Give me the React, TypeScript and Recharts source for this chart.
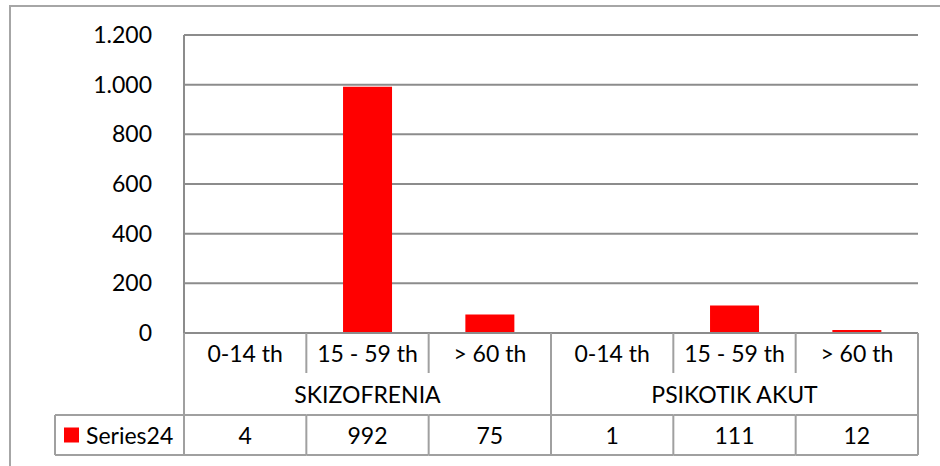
import { BarChart, Bar, XAxis, YAxis, CartesianGrid } from "recharts";

// age bands per diagnosis group
const categories = ["0-14 th", "15 - 59 th", "> 60 th", "0-14 th", "15 - 59 th", "> 60 th"];
const groupIndex = [0, 0, 0, 1, 1, 1];
const groups = ["SKIZOFRENIA", "PSIKOTIK AKUT"];
const seriesName = "Series24";
const values = [4, 992, 75, 1, 111, 12];
const yTicks = [0, 200, 400, 600, 800, 1000, 1200];

const W = 940;
const H = 466;
const MARGIN = { top: 35, right: 22, bottom: 0, left: 0 };
const Y_AXIS_W = 184;
const X_AXIS_H = 133;
const PLOT_W = W - MARGIN.left - MARGIN.right - Y_AXIS_W;

const FONT = "Lato, 'Open Sans', sans-serif";
const FONT_SIZE = 23;
const LINE = "#8c8c8c";
const TABLE_LINE = "#a0a0a0";
const RED = "#ff0000";

const data = categories.map((c, i) => ({
  key: `${groups[groupIndex[i]]}|${c}|${i}`,
  value: values[i],
}));

const fmt = (v: number) => String(v).replace(/\B(?=(\d{3})+(?!\d))/g, ".");

function TableTick(props: any) {
  const { x, y, payload } = props;
  const i: number = payload.index;
  const bw = PLOT_W / categories.length;
  const left = x - bw / 2;
  const right = x + bw / 2;
  const y1 = y + 40; // bottom of age-band row
  const y2 = y + 82; // top of data table row
  const y3 = y + 122; // bottom of data table row
  const g = groupIndex[i];
  const groupStart = i === 0 || groupIndex[i - 1] !== g;
  const isLast = i === categories.length - 1;
  const groupSize = groupIndex.filter((v) => v === g).length;
  const tableLeft = 55;

  const text = {
    fontFamily: FONT,
    fontSize: FONT_SIZE,
    fill: "#000",
    textAnchor: "middle" as const,
    dominantBaseline: "central" as const,
  };

  return (
    <g>
      <text x={x} y={y + 20} {...text}>{categories[i]}</text>
      {groupStart ? (
        <line x1={left} x2={left} y1={y} y2={y3} stroke={TABLE_LINE} strokeWidth={2} />
      ) : (
        <line x1={left} x2={left} y1={y} y2={y1} stroke={TABLE_LINE} strokeWidth={2} />
      )}
      {isLast && <line x1={right} x2={right} y1={y} y2={y3} stroke={TABLE_LINE} strokeWidth={2} />}
      {groupStart && (
        <text x={x + ((groupSize - 1) / 2) * bw} y={y + 61} {...text}>
          {groups[g]}
        </text>
      )}
      <line x1={left} x2={right} y1={y2} y2={y2} stroke={TABLE_LINE} strokeWidth={2} />
      <line x1={left} x2={right} y1={y3} y2={y3} stroke={TABLE_LINE} strokeWidth={2} />
      <line x1={right} x2={right} y1={y2} y2={y3} stroke={TABLE_LINE} strokeWidth={2} />
      <text x={x} y={(y2 + y3) / 2} {...text}>{values[i]}</text>
      {i === 0 && (
        <g>
          <line x1={tableLeft} x2={left} y1={y2} y2={y2} stroke={TABLE_LINE} strokeWidth={2} />
          <line x1={tableLeft} x2={left} y1={y3} y2={y3} stroke={TABLE_LINE} strokeWidth={2} />
          <line x1={tableLeft} x2={tableLeft} y1={y2} y2={y3} stroke={TABLE_LINE} strokeWidth={2} />
          <rect x={tableLeft + 9} y={(y2 + y3) / 2 - 7.5} width={15} height={15} fill={RED} />
          <text
            x={tableLeft + 31}
            y={(y2 + y3) / 2}
            fontFamily={FONT}
            fontSize={FONT_SIZE}
            fill="#000"
            dominantBaseline="central"
          >
            {seriesName}
          </text>
        </g>
      )}
    </g>
  );
}

export default function App() {
  return (
    <div style={{ position: "absolute", left: 0, top: 0, width: W, height: H, background: "#fff" }}>
      <div
        style={{
          position: "absolute",
          left: 9,
          top: 5,
          right: 0,
          bottom: 0,
          borderLeft: "2px solid #a6a6a6",
          borderTop: "2px solid #a6a6a6",
        }}
      />
      <div style={{ position: "absolute", left: 0, top: 0 }}>
        <BarChart width={W} height={H} data={data} margin={MARGIN} barCategoryGap="30%">
          <CartesianGrid vertical={false} stroke={LINE} strokeWidth={2} />
          <XAxis
            dataKey="key"
            height={X_AXIS_H}
            interval={0}
            tickSize={0}
            tickMargin={0}
            axisLine={{ stroke: LINE, strokeWidth: 2 }}
            tickLine={false}
            tick={<TableTick />}
          />
          <YAxis
            width={Y_AXIS_W}
            domain={[0, 1200]}
            ticks={yTicks}
            tickFormatter={fmt}
            tickSize={0}
            tickMargin={32}
            axisLine={{ stroke: LINE, strokeWidth: 2 }}
            tickLine={false}
            tick={{ fill: "#000", fontFamily: FONT, fontSize: FONT_SIZE }}
          />
          <Bar dataKey="value" fill={RED} isAnimationActive={false} />
        </BarChart>
      </div>
    </div>
  );
}
